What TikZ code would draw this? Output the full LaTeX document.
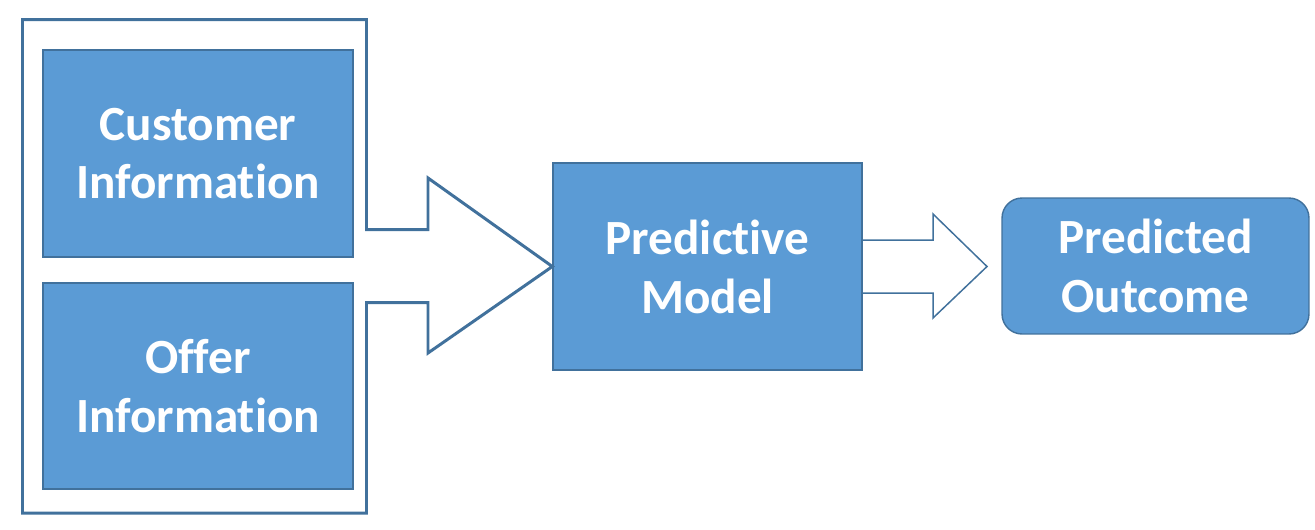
\documentclass[tikz,border=0pt]{standalone}
\usepackage{fontspec}
\setmainfont[Ligatures=NoCommon]{Carlito}
\definecolor{boxfill}{HTML}{5B9BD5}
\definecolor{boxline}{HTML}{41719C}
\tikzset{
  block/.style={draw=boxline, line width=0.8pt, fill=boxfill, text=white, inner sep=0pt,
    align=center, font=\fontsize{28}{33.5}\selectfont\bfseries},
  outline/.style={draw=boxline, line join=miter}
}
\begin{document}
\begin{tikzpicture}[x=0.02cm,y=-0.02cm]
        \useasboundingbox (0,0) rectangle (1315,529);
        % input blocks
        \node[block, minimum width=6.2cm, minimum height=4.14cm] (cust) at (198,153.5) {Customer\\Information};
        \node[block, minimum width=6.2cm, minimum height=4.12cm] (offer) at (198,386) {Offer\\Information};
        \node[block, minimum width=6.18cm, minimum height=4.14cm] (model) at (707.5,266.5) {Predictive\\Model};
        \node[block, rounded corners=0.4cm, minimum width=6.14cm, minimum height=2.72cm] (outcome) at (1155.5,266) {Predicted\\Outcome};
        % frame round the inputs, running into the big arrow
        \draw[outline, line width=1.7pt] (22.5,19.5) -- (366.5,19.5) -- (366.5,229.5) -- (428,229.5) -- (428,178)
            -- (model.west) -- (428,353) -- (428,302.5) -- (366.5,302.5) -- (366.5,513) -- (22.5,513) -- cycle;
        % small arrow to the outcome
        \draw[outline, line width=0.85pt] (model.east |- 0,240) -- (933,240) -- (933,214) -- (987,266.5)
            -- (933,318) -- (933,293) -- (model.east |- 0,293);
    \end{tikzpicture}
\end{document}
